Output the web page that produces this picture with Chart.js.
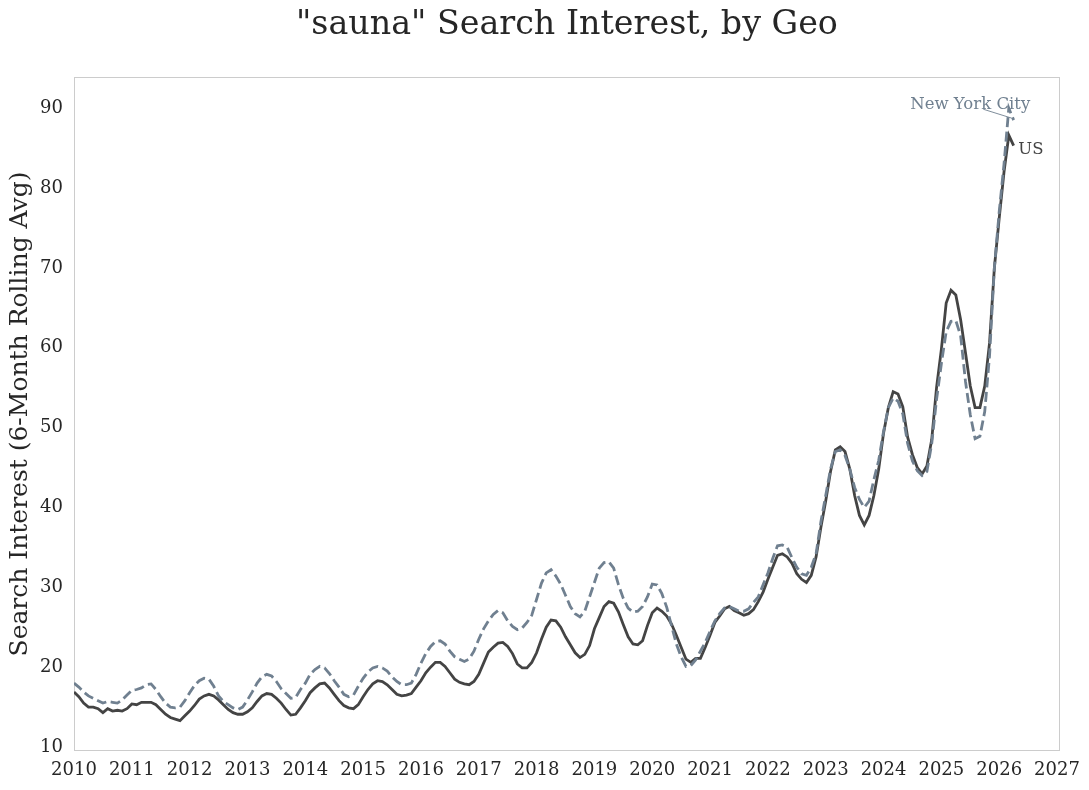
<!DOCTYPE html>
<html>
<head>
<meta charset="utf-8">
<script src="https://cdn.jsdelivr.net/npm/chart.js@4.4.1/dist/chart.umd.min.js"></script>
<style>
  html, body { margin: 0; padding: 0; background: #ffffff; }
  #wrap { width: 1089px; height: 790px; position: relative; }
</style>
</head>
<body>
<div id="wrap"><canvas id="c" width="1089" height="790"></canvas></div>
<script>
// ---- Data (monthly, starting Jan 2010) ----
const startYear = 2010;
const titleText = '"sauna" Search Interest, by Geo';
const yAxisLabel = 'Search Interest (6-Month Rolling Avg)';
const seriesNames = ['US', 'New York City'];
const xTickYears = [2010,2011,2012,2013,2014,2015,2016,2017,2018,2019,2020,2021,2022,2023,2024,2025,2026,2027];
const yTickValues = [10,20,30,40,50,60,70,80,90];

const usValues = [
  16.9,16.3,15.5,15.0,15.0,14.8,14.3,14.8,14.5,14.6,14.5,14.8, // 2010
  15.4,15.3,15.6,15.6,15.6,15.3,14.7,14.1,13.7,13.5,13.3,13.9, // 2011
  14.5,15.2,16.0,16.4,16.6,16.4,15.9,15.3,14.7,14.3,14.1,14.1, // 2012
  14.4,14.9,15.7,16.4,16.7,16.6,16.1,15.5,14.7,14.0,14.1,14.9, // 2013
  15.8,16.8,17.4,17.9,18.0,17.4,16.6,15.8,15.2,14.9,14.8,15.3, // 2014
  16.3,17.2,17.9,18.3,18.2,17.8,17.2,16.6,16.4,16.5,16.7,17.5, // 2015
  18.3,19.3,20.0,20.6,20.6,20.1,19.3,18.5,18.1,17.9,17.8,18.2, // 2016
  19.1,20.5,21.9,22.5,23.0,23.1,22.6,21.7,20.4,19.9,19.9,20.6, // 2017
  21.8,23.5,25.0,25.9,25.8,25.0,23.8,22.8,21.8,21.2,21.6,22.7, // 2018
  24.8,26.2,27.6,28.2,28.0,26.9,25.3,23.8,22.9,22.8,23.3,25.2, // 2019
  26.8,27.4,27.0,26.4,25.4,24.0,22.5,21.0,20.6,21.1,21.1,22.5, // 2020
  24.0,25.6,26.4,27.3,27.6,27.1,26.8,26.5,26.7,27.2,28.2,29.4, // 2021
  31.0,32.5,34.0,34.2,33.8,33.0,31.7,31.0,30.6,31.5,33.8,37.5, // 2022
  40.8,44.5,47.2,47.6,47.0,44.8,41.5,39.0,37.8,39.0,41.5,44.8, // 2023
  49.3,52.5,54.5,54.2,52.6,48.8,46.6,45.0,44.2,45.2,48.5,55.0, // 2024
  59.8,65.6,67.2,66.6,63.5,59.4,55.2,52.5,52.5,55.2,60.6,70.0, // 2025
  76.2,82.0,86.6,85.3                                          // 2026
];

const nycValues = [
  18.0,17.5,16.9,16.4,16.1,15.8,15.5,15.7,15.6,15.5,15.9,16.5, // 2010
  17.1,17.2,17.4,17.8,17.9,17.2,16.3,15.5,15.0,14.9,15.0,15.8, // 2011
  16.8,17.7,18.3,18.6,18.5,17.6,16.4,15.7,15.3,14.9,14.7,15.0, // 2012
  15.9,16.9,18.0,18.8,19.1,18.9,18.2,17.3,16.7,16.1,16.2,17.2, // 2013
  18.0,19.1,19.7,20.1,19.9,19.2,18.3,17.5,16.6,16.3,16.5,17.6, // 2014
  18.6,19.4,19.9,20.1,19.9,19.5,18.8,18.2,17.8,17.8,18.0,19.1, // 2015
  20.5,21.7,22.6,23.2,23.3,22.9,22.0,21.3,21.0,20.7,21.0,22.0, // 2016
  23.5,24.8,25.8,26.6,27.1,26.8,25.8,25.1,24.7,24.9,25.6,26.5, // 2017
  28.5,30.5,31.8,32.2,31.4,30.4,29.0,27.6,26.7,26.3,27.0,28.8, // 2018
  30.6,32.4,33.1,33.2,32.4,30.3,28.6,27.4,26.9,27.0,27.6,28.8, // 2019
  30.4,30.3,29.2,27.5,25.2,22.9,21.3,20.1,20.2,20.9,22.0,23.1, // 2020
  24.5,25.8,26.7,27.4,27.6,27.3,27.0,27.0,27.3,28.1,28.8,30.3, // 2021
  31.8,33.6,35.2,35.3,35.0,33.7,32.5,31.7,31.5,32.5,34.2,38.2, // 2022
  41.5,44.8,47.0,47.2,46.5,44.8,42.5,41.0,40.0,40.8,43.5,45.9, // 2023
  49.5,52.5,53.7,53.3,51.7,48.0,45.8,44.6,44.0,44.5,48.0,53.5, // 2024
  58.0,62.0,63.3,63.4,61.5,55.8,51.6,48.6,48.9,52.0,59.0,70.0, // 2025
  77.0,83.0,90.0,88.5                                          // 2026
];

// annotation label anchors (data coordinates)
const nycLabelAt = [2025.5, 90.45];
const usLabelAt = [2026.33, 84.75];

// ---- Build points ----
function toPoints(vals) {
  return vals.map((v, i) => ({ x: startYear + i / 12, y: v }));
}

const SERIF = '"DejaVu Serif", "Liberation Serif", serif';
const US_COLOR = '#444444';
const NYC_COLOR = '#708090';

const framePlugin = {
  id: 'framePlugin',
  beforeDatasetsDraw(chart) {
    const { ctx, chartArea: a } = chart;
    ctx.save();
    ctx.strokeStyle = '#cccccc';
    ctx.lineWidth = 1;
    ctx.strokeRect(Math.round(a.left) + 0.5, Math.round(a.top) + 0.5,
                   Math.round(a.right - a.left) - 1, Math.round(a.bottom - a.top) - 1);
    ctx.restore();
  },
  afterDraw(chart) {
    const { ctx, chartArea: a, scales } = chart;
    const xs = scales.x, ys = scales.y;
    ctx.save();
    // title
    ctx.fillStyle = '#262626';
    ctx.font = '33.3px ' + SERIF;
    ctx.textAlign = 'center';
    ctx.textBaseline = 'middle';
    ctx.fillText(titleText, (a.left + a.right) / 2, 25);

    // NYC annotation
    const nycLast = nycValues.length - 1;
    const px = xs.getPixelForValue(startYear + nycLast / 12);
    const py = ys.getPixelForValue(nycValues[nycLast]);
    const tx = xs.getPixelForValue(nycLabelAt[0]);
    const ty = ys.getPixelForValue(nycLabelAt[1]);
    ctx.strokeStyle = NYC_COLOR;
    ctx.lineWidth = 0.9;
    ctx.beginPath();
    const sx = tx + (px - tx) * 0.3, sy = ty + (py - ty) * 0.3;
    ctx.moveTo(sx, sy);
    ctx.lineTo(px - 2, py - 2);
    ctx.stroke();
    ctx.fillStyle = NYC_COLOR;
    ctx.font = '16.5px ' + SERIF;
    ctx.textAlign = 'center';
    ctx.textBaseline = 'middle';
    ctx.fillText(seriesNames[1], tx, ty);

    // US annotation
    ctx.fillStyle = US_COLOR;
    ctx.textAlign = 'left';
    ctx.fillText(seriesNames[0], xs.getPixelForValue(usLabelAt[0]), ys.getPixelForValue(usLabelAt[1]));
    ctx.restore();
  }
};

new Chart(document.getElementById('c'), {
  type: 'line',
  data: {
    datasets: [
      {
        label: seriesNames[0],
        data: toPoints(usValues),
        borderColor: US_COLOR,
        borderWidth: 2.8,
        pointRadius: 0,
        tension: 0,
        fill: false,
        order: 1
      },
      {
        label: seriesNames[1],
        data: toPoints(nycValues),
        borderColor: NYC_COLOR,
        borderWidth: 2.8,
        borderDash: [10, 4.5],
        pointRadius: 0,
        tension: 0,
        fill: false,
        order: 0
      }
    ]
  },
  options: {
    responsive: false,
    animation: false,
    devicePixelRatio: 1,
    layout: { padding: { top: 77, right: 28, left: 0, bottom: 0 } },
    plugins: {
      legend: { display: false },
      title: { display: false },
      tooltip: { enabled: false }
    },
    scales: {
      x: {
        type: 'linear',
        min: 2010,
        max: 2027.05,
        grid: { display: false, drawTicks: false },
        border: { display: false },
        afterBuildTicks(scale) { scale.ticks = xTickYears.map(v => ({ value: v })); },
        afterFit(scale) { scale.height = 39; },
        ticks: {
          autoSkip: false,
          maxRotation: 0,
          padding: 9,
          color: '#262626',
          font: { family: SERIF, size: 18 },
          callback: (v) => String(v)
        }
      },
      y: {
        type: 'linear',
        min: 9.5,
        max: 93.9,
        grid: { display: false, drawTicks: false },
        border: { display: false },
        afterBuildTicks(scale) { scale.ticks = yTickValues.map(v => ({ value: v })); },
        afterFit(scale) { scale.width = 74; },
        title: {
          display: true,
          text: yAxisLabel,
          color: '#262626',
          font: { family: SERIF, size: 25 },
          padding: { top: 5, bottom: 0 }
        },
        ticks: {
          padding: 11,
          color: '#262626',
          font: { family: SERIF, size: 18 },
          callback: (v) => String(v)
        }
      }
    }
  },
  plugins: [framePlugin]
});
</script>
</body>
</html>
